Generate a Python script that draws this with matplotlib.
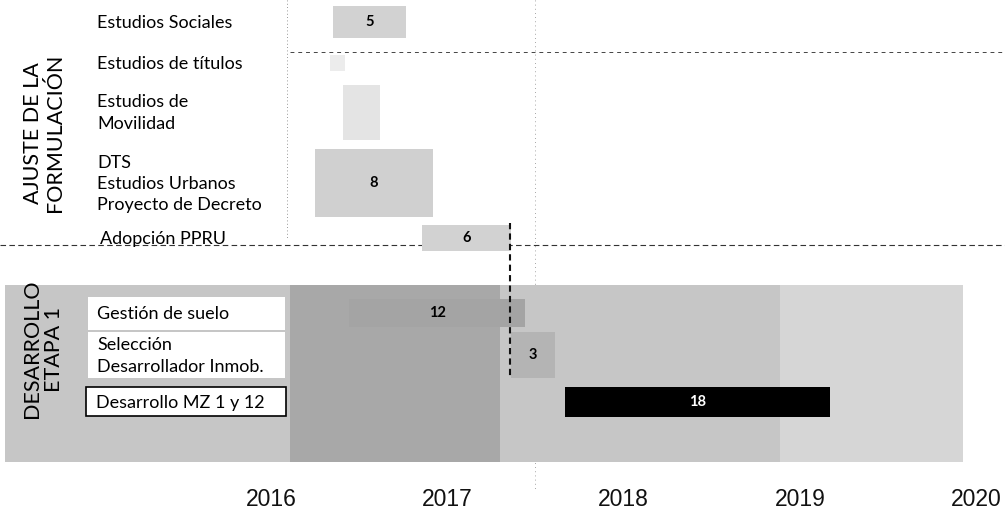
import matplotlib
matplotlib.use("Agg")
import matplotlib.pyplot as plt
from matplotlib.patches import Rectangle

# ---- data ----
tasks = ["Estudios Sociales", "Estudios de títulos", "Estudios de\nMovilidad",
         "DTS\nEstudios Urbanos\nProyecto de Decreto", "Adopción PPRU",
         "Gestión de suelo", "Selección\nDesarrollador Inmob.", "Desarrollo MZ 1 y 12"]
start_month = [4.2, 4.0, 4.9, 3.0, 10.3, 5.3, 16.3, 20.0]   # months after Jan 2016
duration = [5, 1, 2.5, 8, 6, 12, 3, 18]
duration_label = ["5", "", "", "8", "6", "12", "3", "18"]
years = [2016, 2017, 2018, 2019, 2020]
groups = ["AJUSTE DE LA\nFORMULACIÓN", "DESARROLLO\nETAPA 1"]

# ---- layout / style ----
W, H = 1005, 513
PX0, PXM = 271, 14.7           # pixel of month 0, pixels per month
def px2m(px):
    return (px - PX0) / PXM

row_y = [22, 63, 112, 183, 238, 313, 355, 402]
row_h = [32, 16, 55, 68, 26, 28, 46, 30]
bar_colors = ["#d2d2d2", "#ececec", "#e4e4e4", "#d0d0d0", "#d2d2d2",
              "#a4a4a4", "#b4b4b4", "#000000"]
text_colors = ["black"] * 7 + ["white"]

fig = plt.figure(figsize=(W / 100, H / 100), dpi=100)
ax = fig.add_axes([0, 0, 1, 1])
ax.set_xlim(px2m(0), px2m(W))
ax.set_ylim(H, 0)
ax.axis("off")

label_font = "Lato"

# faint dotted guides
ax.plot([px2m(287), px2m(287)], [0, 240], ls=(0, (1, 3)), lw=0.6, color="#777", zorder=0)
ax.plot([px2m(535), px2m(535)], [0, 490], ls=(0, (1, 4)), lw=0.6, color="#888", zorder=0)

# Desarrollo section background
ax.add_patch(Rectangle((px2m(5), 285), px2m(963) - px2m(5), 177,
                       facecolor="#c6c6c6", edgecolor="none", zorder=0.5))
ax.add_patch(Rectangle((px2m(290), 285), px2m(500) - px2m(290), 177,
                       facecolor="#a8a8a8", edgecolor="none", zorder=0.6))
ax.add_patch(Rectangle((px2m(780), 285), px2m(963) - px2m(780), 177,
                       facecolor="#d6d6d6", edgecolor="none", zorder=0.6))

# bars
ax.barh(row_y, duration, left=start_month, height=row_h, color=bar_colors,
        edgecolor="none", zorder=2)
for i, lab in enumerate(duration_label):
    if lab:
        ax.text(start_month[i] + duration[i] / 2, row_y[i], lab, ha="center",
                va="center", fontsize=10.5, fontweight="bold",
                color=text_colors[i], family=label_font, zorder=5)

# task label boxes (bottom section)
box_specs = {5: (88, 297, 197, 33, "none"), 6: (88, 332, 197, 46, "none"),
             7: (86, 387, 200, 29, "black")}
for i, (x0, y0, w, h, ec) in box_specs.items():
    ax.add_patch(Rectangle((px2m(x0), y0), px2m(x0 + w) - px2m(x0), h,
                           facecolor="white", edgecolor=ec, lw=1.2, zorder=3))

# task labels
label_x = [97, 97, 97, 97, 100, 97, 97, 96]
for i, t in enumerate(tasks):
    ax.text(px2m(label_x[i]), row_y[i] + 1, t, ha="left", va="center",
            fontsize=13, family=label_font, linespacing=1.4, zorder=4)

# group labels
ax.text(px2m(44), 133, groups[0], rotation=90, ha="center", va="center",
        fontsize=15.5, family=label_font, linespacing=1.15, zorder=4)
ax.text(px2m(43), 349, groups[1], rotation=90, ha="center", va="center",
        fontsize=15.5, family=label_font, linespacing=1.15, zorder=4)

# reference lines
ax.plot([px2m(290), px2m(W)], [52, 52], ls=(0, (4, 4)), lw=0.7, color="#444", zorder=1)
ax.plot([px2m(0), px2m(W)], [245, 245], ls=(0, (5, 3)), lw=0.8, color="#333", zorder=1)
ax.plot([px2m(510), px2m(510)], [223, 378], ls=(0, (3, 2)), lw=1.5, color="#111", zorder=6)

# year labels
for k, yv in enumerate(years):
    ax.text(12 * k, 500, str(yv), ha="center", va="center", fontsize=16.5,
            family="Liberation Sans", color="#111")

fig.savefig("out.png", dpi=100)
